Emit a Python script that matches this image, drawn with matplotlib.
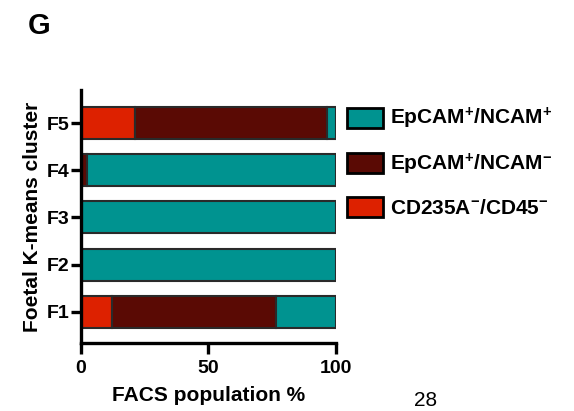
import matplotlib.pyplot as plt
import numpy as np

plt.rcParams['font.family'] = ['Liberation Sans', 'DejaVu Sans']
plt.rcParams['font.weight'] = 'bold'
plt.rcParams['mathtext.fontset'] = 'custom'
plt.rcParams['mathtext.rm'] = 'Liberation Sans:bold'
plt.rcParams['mathtext.default'] = 'rm'

# FACS populations per foetal cluster (F1..F5), in %
clusters = ['F1', 'F2', 'F3', 'F4', 'F5']
cd235a_cd45 = [12.2, 0, 0, 0, 21.3]
epcam_pos_ncam_neg = [64.5, 0, 0, 2.5, 75.2]
epcam_pos_ncam_pos = [23.3, 100, 100, 97.5, 3.5]

labels = [r'EpCAM$^{+}$/NCAM$^{+}$', r'EpCAM$^{+}$/NCAM$^{-}$', r'CD235A$^{-}$/CD45$^{-}$']
colors = ['#009390', '#5a0a04', '#dd2100']

fig = plt.figure(figsize=(5.74, 4.11), dpi=100)
ax = fig.add_axes([0.141, 0.1655, 0.444, 0.6155])

y = np.arange(len(clusters))
left = np.zeros(len(clusters))
bars = {}
for name, vals, c in [(labels[2], cd235a_cd45, colors[2]),
                      (labels[1], epcam_pos_ncam_neg, colors[1]),
                      (labels[0], epcam_pos_ncam_pos, colors[0])]:
    bars[name] = ax.barh(y, vals, left=left, height=0.68, color=c,
                         edgecolor='#2a2a2a', linewidth=1.5)
    left += np.array(vals)

ax.set_xlim(0, 100)
ax.set_ylim(-0.66, 4.7)
ax.set_xticks([0, 50, 100])
ax.set_yticks(y)
ax.set_yticklabels(clusters)
ax.tick_params(axis='x', width=2.4, length=8, labelsize=14, pad=4)
ax.tick_params(axis='y', width=2.4, length=7, labelsize=14, pad=1)
for s in ['top', 'right']:
    ax.spines[s].set_visible(False)
for s in ['left', 'bottom']:
    ax.spines[s].set_linewidth(2.4)

ax.set_xlabel('FACS population %', fontsize=15, fontweight='bold', labelpad=7)
ax.set_ylabel('Foetal K-means cluster', fontsize=15, fontweight='bold', labelpad=4)

handles = [bars[labels[0]], bars[labels[1]], bars[labels[2]]]
leg = fig.legend(handles, labels, loc='upper left', bbox_to_anchor=(0.605, 0.742),
                 frameon=False, fontsize=15, handlelength=1.7, handleheight=1.1,
                 labelspacing=0.97, handletextpad=0.35, borderpad=0, borderaxespad=0)
for p in leg.get_patches():
    p.set_edgecolor('black')
    p.set_linewidth(2)

fig.text(0.049, 0.937, 'G', fontsize=21, fontweight='bold', va='center')
fig.text(0.742, 0.025, '28', fontsize=15, fontweight='normal', ha='center', va='center')

fig.savefig('out.png', dpi=100)
